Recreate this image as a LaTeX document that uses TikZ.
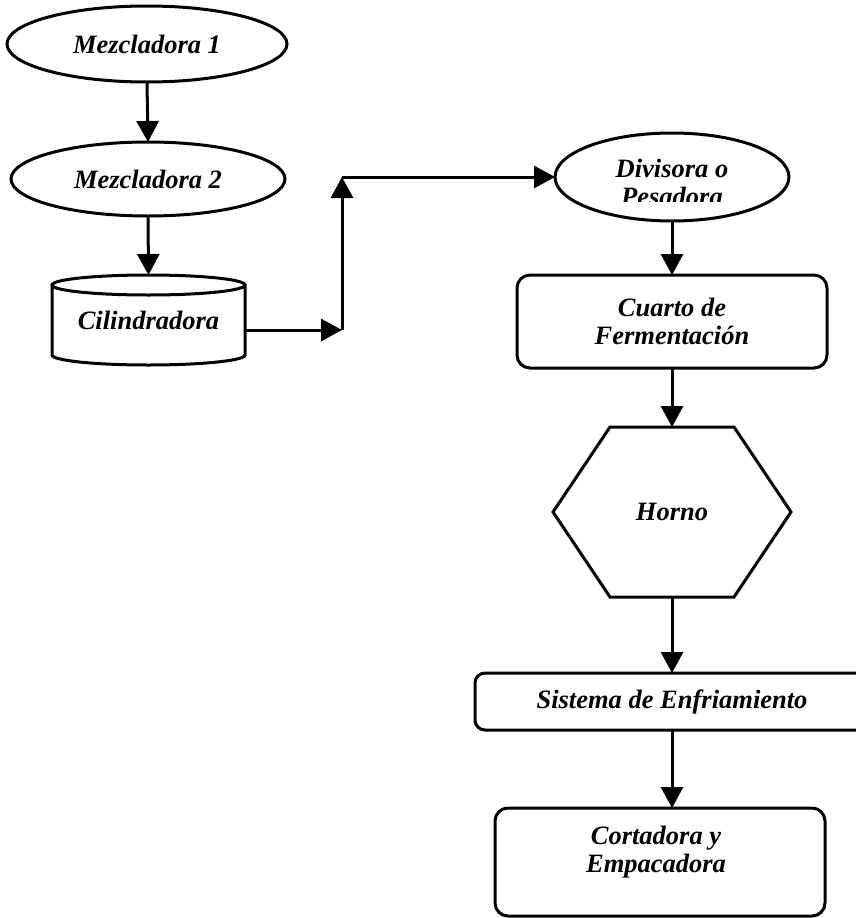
\documentclass[tikz,border=0pt]{standalone}
\usepackage{fontspec}
\setmainfont{Liberation Serif}
\usetikzlibrary{arrows.meta,shapes.geometric,calc}
\begin{document}
\begin{tikzpicture}[x=1pt,y=1pt,
  box/.style={draw, line width=3pt, outer sep=0pt, inner sep=0pt},
  txt/.style={font=\fontsize{26.5}{28}\selectfont\bfseries\itshape, align=center},
  oval/.style={box, ellipse},
  rbox/.style={box, rectangle, rounded corners=13pt},
  flow/.style={line width=3pt, -{Triangle[length=21pt,width=22pt]}},
  outline/.style={line width=3pt, line join=miter},
]
\useasboundingbox (0,0) rectangle (855,-918);

% left column
\node[oval, txt, minimum width=280pt, minimum height=76pt] (m1) at (147,-44) {Mezcladora 1};
\node[oval, txt, minimum width=274pt, minimum height=74pt] (m2) at (148,-179) {Mezcladora 2};
\node[txt, minimum width=193pt, minimum height=70pt, inner sep=0pt, outer sep=0pt] (cyl) at (148.5,-320) {Cilindradora};
\draw[outline] (cyl.north west) -- (cyl.south west)
  arc[start angle=180, end angle=360, x radius=96.5pt, y radius=10pt]
  -- (cyl.north east)
  arc[start angle=0, end angle=360, x radius=96.5pt, y radius=10pt];
\coordinate (cyltop) at ($(cyl.north)+(0,10)$);

% connector corners
\coordinate (c1) at (342,-330);
\coordinate (c2) at (342,-177);

% right column
\node[oval, minimum width=234pt, minimum height=88pt] (div) at (672,-177) {};
\begin{scope}
  \clip (540,-125) rectangle (800,-201);
  \node[txt] (divt) at (672,-182) {Divisora o\\Pesadora};
\end{scope}
\node[rbox, txt, minimum width=310pt, minimum height=93pt] (cua) at (672,-321.5) {Cuarto de\\Fermentación};
\node[txt, minimum width=238pt, minimum height=170pt, inner sep=0pt, outer sep=0pt] (hor) at (672,-512) {Horno};
\draw[outline] (hor.west) -- ($(hor.north)+(-62,0)$) -- ($(hor.north)+(62,0)$) -- (hor.east)
  -- ($(hor.south)+(62,0)$) -- ($(hor.south)+(-62,0)$) -- cycle;
\node[rbox, rounded corners=10pt, txt, minimum width=394pt, minimum height=57pt] (sis) at (672,-701.5) {Sistema de Enfriamiento};
\node[rbox, minimum width=330pt, minimum height=108pt] (cor) at (660,-862) {};
\node[txt] (cort) at (656,-852) {Cortadora y\\Empacadora};

% connectors
\draw[flow] (m1.south) -- (m2.north);
\draw[flow] (m2.south) -- (cyltop);
\draw[flow] (cyl.east |- c1) -- (c1);
\draw[flow] (c1) -- (c2);
\draw[flow] (c2) -- (div.west);
\draw[flow] (div.south) -- (cua.north);
\draw[flow] (cua.south) -- (hor.north);
\draw[flow] (hor.south) -- (sis.north);
\draw[flow] (sis.south) -- (sis.south |- cor.north);
\end{tikzpicture}
\end{document}
